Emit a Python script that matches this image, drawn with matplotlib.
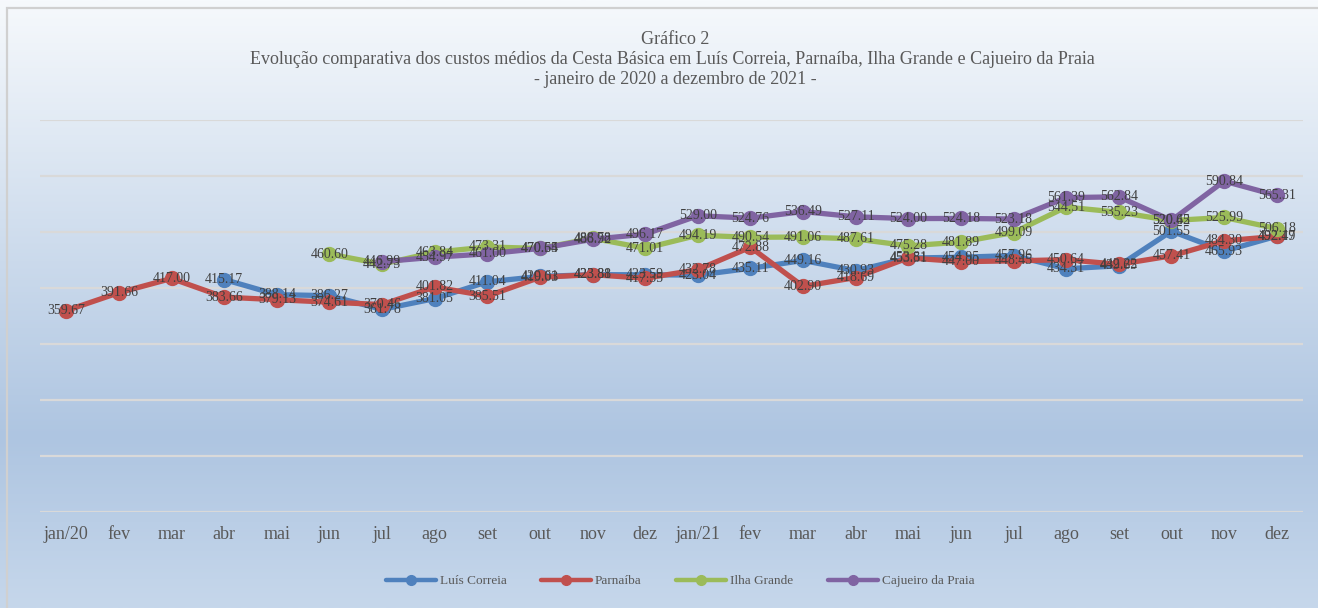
import numpy as np
import matplotlib
matplotlib.use('Agg')
import matplotlib.pyplot as plt
from matplotlib.colors import LinearSegmentedColormap
from matplotlib.patches import Rectangle

# categorias (meses)
meses = ['jan/20', 'fev', 'mar', 'abr', 'mai', 'jun', 'jul', 'ago', 'set', 'out', 'nov', 'dez',
         'jan/21', 'fev', 'mar', 'abr', 'mai', 'jun', 'jul', 'ago', 'set', 'out', 'nov', 'dez']

nan = np.nan
luis_correia = [nan, nan, nan, 415.17, 388.14, 386.27, 361.78, 381.05, 411.04, 420.61, 423.88, 423.59,
                423.04, 435.11, 449.16, 430.93, 453.51, 454.95, 457.96, 434.31, 439.65, 501.55, 465.93, 492.47]
parnaiba = [359.67, 391.66, 417.00, 383.66, 379.13, 374.61, 370.46, 401.82, 385.51, 419.03, 423.81, 417.35,
            432.78, 472.88, 402.90, 418.69, 453.81, 447.00, 448.45, 450.64, 442.22, 457.41, 484.30, 492.19]
ilha_grande = [nan, nan, nan, nan, nan, 460.60, 442.73, 463.84, 473.31, 470.65, 488.78, 471.01,
               494.19, 490.54, 491.06, 487.61, 475.28, 481.89, 499.09, 544.51, 535.23, 520.42, 525.99, 506.18]
cajueiro = [nan, nan, nan, nan, nan, nan, 446.99, 454.97, 461.00, 470.54, 486.92, 496.17,
            529.00, 524.76, 536.49, 527.11, 524.00, 524.18, 523.18, 561.39, 562.84, 520.65, 590.84, 565.31]

series = [
    ('Luís Correia', luis_correia, '#4f81bd'),
    ('Parnaíba', parnaiba, '#c0504d'),
    ('Ilha Grande', ilha_grande, '#9bbb59'),
    ('Cajueiro da Praia', cajueiro, '#8064a2'),
]

plt.rcParams['font.family'] = ['Liberation Serif', 'DejaVu Serif']

W, H = 1318, 608
fig = plt.figure(figsize=(W / 100, H / 100), dpi=100)

# fundo em degradê
bg = fig.add_axes([0, 0, 1, 1], zorder=-10)
cmap = LinearSegmentedColormap.from_list('bg', [(0, '#f6f9fc'), (0.72, '#aec5e1'), (1, '#c6d7eb')])
bg.imshow(np.linspace(0, 1, 256).reshape(-1, 1), aspect='auto', cmap=cmap, extent=[0, 1, 0, 1])
bg.set_xlim(0, 1)
bg.set_ylim(0, 1)
bg.axis('off')
bg.add_patch(Rectangle((7 / W, -0.01), 1.0, 1 - 8 / H + 0.01, fill=False,
                       edgecolor='#d0d0d0', linewidth=1.6, transform=bg.transAxes))

ax = fig.add_axes([40 / W, 1 - 512 / H, (1303 - 40) / W, (512 - 120) / H])
ax.patch.set_alpha(0)
x = np.arange(len(meses))

for nome, vals, cor in series:
    v = np.array(vals, dtype=float)
    ax.plot(x, v, color=cor, linewidth=3.8, marker='o', markersize=10,
            solid_capstyle='round', label=nome, zorder=3)
    for xi, vi in zip(x, v):
        if not np.isnan(vi):
            ax.text(xi, vi, f'{vi:.2f}', ha='center', va='center', fontsize=10,
                    color='#404040', zorder=5)

ax.set_xlim(-0.5, len(meses) - 0.5)
ax.set_ylim(0, 700)
ax.set_yticks(np.arange(0, 701, 100))
ax.yaxis.grid(True, color='#d9d9d9', linewidth=1.6)
ax.set_axisbelow(True)
ax.tick_params(axis='y', left=False, labelleft=False)
ax.set_xticks(x)
ax.set_xticklabels(meses, fontsize=13, color='#595959')
ax.tick_params(axis='x', length=0, pad=10)
for s in ax.spines.values():
    s.set_visible(False)

fig.text(675 / W, 1 - 40 / H, 'Gráfico 2', ha='center', va='center', fontsize=13, color='#595959')
fig.text(672 / W, 1 - 60 / H,
         'Evolução comparativa dos custos médios da Cesta Básica em Luís Correia, Parnaíba, Ilha Grande e Cajueiro da Praia',
         ha='center', va='center', fontsize=13, color='#595959')
fig.text(675 / W, 1 - 80 / H, '- janeiro de 2020 a dezembro de 2021 -', ha='center', va='center',
         fontsize=13, color='#595959')

leg = fig.legend(loc='center', bbox_to_anchor=(680 / W, 1 - 581 / H), ncol=4, frameon=False,
                 fontsize=9.5, handlelength=3.8, columnspacing=2.6, handletextpad=0.3,
                 labelcolor='#595959')
for h in leg.legend_handles:
    h.set_markersize(7)
    h.set_linewidth(3.2)

fig.savefig('out.png', dpi=100)
